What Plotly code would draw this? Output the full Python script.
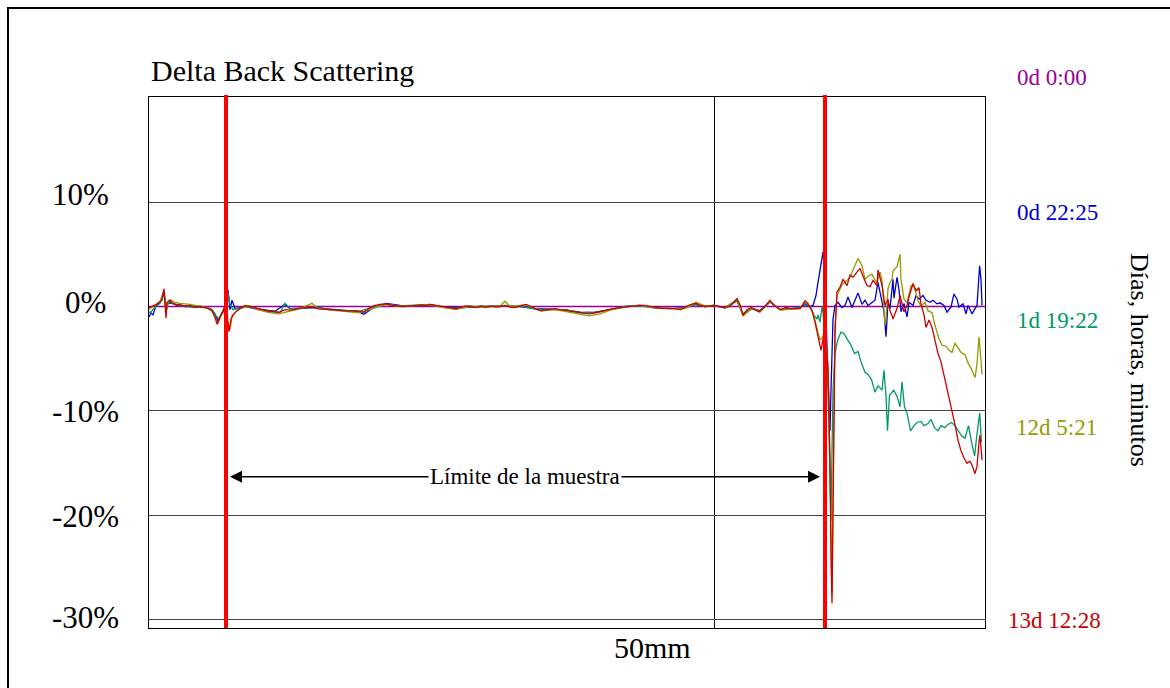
import plotly.graph_objects as go

# ---------------- data (x in mm, y in % delta back scattering) ----------------
purple_x = [-6.5, 77.1]
purple_y = [0.0, 0.0]

blue_x = [-6.5,-6.3,-6.1,-5.8,-5.4,-5.0,-4.8,-4.6,-4.2,-3.4,-2.4,-1.4,-0.6,-0.2,0.1,0.4,0.7,1.0,1.3,1.4,1.6,1.8,2.1,2.6,3.6,4.8,6.1,7.1,7.6,8.6,10.1,11.6,13.1,14.4,15.0,15.8,17.2,18.6,20.1,21.6,23.1,24.6,26.1,27.6,29.1,30.6,32.1,33.6,35.1,36.6,38.1,39.6,41.1,42.6,44.1,45.6,47.1,48.1,49.1,50.0,51.1,52.3,52.9,53.8,54.6,55.6,56.6,57.6,58.6,59.1,59.6,59.9,60.2,60.4,60.6,60.8,60.9,61.1,61.3,61.5,61.6,61.7,61.8,61.9,62.1,62.4,62.8,63.1,63.4,63.8,64.1,64.4,64.8,65.1,65.4,65.8,66.1,66.4,66.8,67.0,67.2,67.4,67.6,67.8,67.9,68.0,68.3,68.5,68.7,69.0,69.3,69.5,69.9,70.2,70.5,70.9,71.2,71.6,71.9,72.3,72.6,73.0,73.3,73.7,74.0,74.3,74.5,74.9,75.2,75.4,75.8,76.1,76.3,76.56,76.7,76.8]
blue_y = [-1.0,-0.6,-0.8,0.1,0.4,1.5,-0.5,0.3,0.3,0.1,0.0,0.0,-0.1,-0.3,-0.7,-1.4,-0.8,-0.2,1.0,1.6,-0.3,0.6,-0.2,-0.1,-0.05,-0.3,-0.45,0.2,-0.2,-0.15,-0.1,-0.25,-0.4,-0.5,-0.75,-0.2,0.3,0.1,0.05,0.15,-0.05,-0.1,-0.05,0.0,0.05,0.0,-0.2,-0.25,-0.35,-0.6,-0.55,-0.3,0.0,0.1,-0.1,-0.2,-0.1,0.2,0.0,0.1,-0.1,0.6,-0.7,-0.2,-0.4,0.5,-0.3,-0.2,-0.1,0.2,0.0,0.1,1.05,2.3,3.3,4.6,5.2,3.0,-4.0,-10.0,-11.9,-8.0,-3.4,-1.2,0.1,0.4,-0.1,0.1,0.9,-0.1,0.6,1.3,0.2,0.6,0.1,0.4,0.6,2.3,0.3,-0.5,-2.9,0.4,-0.2,1.3,2.6,0.8,2.8,1.6,-0.5,0.3,-1.0,0.4,0.1,1.05,0.7,1.05,0.6,0.4,0.6,0.25,0.35,0.1,-0.55,-0.05,1.2,0.7,-0.05,0.25,-0.7,0.1,-0.7,-0.2,0.1,3.9,2.6,0.1]

green_x = [-6.5,-6.2,-5.8,-5.4,-5.0,-4.8,-4.4,-3.9,-2.9,-1.9,-0.9,-0.2,0.2,0.5,0.8,1.1,1.4,1.6,1.9,2.4,3.1,4.4,5.6,6.6,7.1,7.6,8.6,10.1,11.6,13.1,14.6,15.8,17.2,18.6,20.1,21.6,23.1,24.6,26.1,27.6,29.1,30.6,32.1,33.6,35.1,36.6,38.1,39.6,41.1,42.6,44.1,45.6,47.1,48.2,49.1,50.0,51.1,52.3,52.9,53.8,54.6,55.6,56.6,57.6,58.6,59.1,59.6,60.0,60.3,60.4,60.6,60.8,60.9,61.1,61.4,61.6,61.7,61.8,61.9,62.1,62.35,62.7,63.0,63.4,63.7,64.05,64.4,64.7,65.1,65.4,65.75,66.1,66.4,66.8,67.0,67.2,67.35,67.55,67.96,68.3,68.6,68.8,69.05,69.3,69.66,70.0,70.3,70.7,71.0,71.4,71.7,72.05,72.4,72.7,73.07,73.4,73.75,74.1,74.4,74.77,75.1,75.45,75.8,76.06,76.3,76.57,76.74]
green_y = [-0.6,-0.4,0.0,0.3,1.2,0.2,0.4,0.2,0.0,-0.05,-0.1,-0.3,-0.9,-1.2,-0.6,0.0,1.35,0.2,-0.3,-0.2,0.0,-0.3,-0.5,-0.6,0.3,-0.2,-0.2,-0.05,-0.3,-0.4,-0.45,-0.1,0.2,0.05,0.1,0.2,-0.1,-0.15,0.0,0.0,0.05,0.05,-0.25,-0.3,-0.3,-0.55,-0.6,-0.3,0.0,0.05,-0.15,-0.2,-0.15,0.2,0.0,0.1,-0.15,0.5,-0.8,-0.15,-0.45,0.4,-0.3,-0.2,-0.1,0.3,0.0,-0.85,-1.2,-0.8,-1.5,0.0,-0.6,-3.0,-8.0,-16.0,-20.5,-14.0,-8.0,-4.5,-3.25,-2.45,-2.6,-3.25,-3.7,-4.5,-4.3,-5.3,-6.3,-6.5,-7.0,-8.2,-7.6,-8.0,-6.1,-8.6,-11.9,-8.5,-8.0,-8.6,-9.6,-7.2,-9.6,-10.2,-11.9,-11.4,-11.1,-11.0,-11.4,-11.2,-10.8,-11.6,-11.9,-11.4,-11.6,-11.3,-11.1,-11.4,-11.9,-12.4,-12.6,-11.4,-13.2,-14.3,-12.2,-10.2,-13.0]

olive_x = [-6.5,-6.2,-5.8,-5.4,-5.0,-4.8,-4.6,-4.4,-3.9,-3.4,-2.4,-1.4,-0.6,-0.2,0.1,0.4,0.7,1.0,1.4,1.6,1.8,2.2,2.6,3.6,4.4,5.4,6.5,7.6,8.6,9.8,10.4,11.7,13.1,14.6,15.8,17.2,18.6,20.1,21.6,22.7,24.2,25.6,27.1,28.6,29.1,29.6,31.2,32.7,34.2,35.6,36.6,37.5,38.6,39.6,41.1,42.6,44.1,45.6,47.1,48.2,49.1,50.0,51.1,52.3,52.9,53.8,54.6,55.6,56.6,57.6,58.6,59.1,59.4,59.8,60.1,60.4,60.6,60.8,60.9,61.1,61.4,61.6,61.7,61.8,61.9,62.0,62.1,62.3,62.8,63.3,63.6,63.9,64.4,64.8,65.1,65.4,65.8,66.1,66.3,66.6,66.8,67.1,67.2,67.4,67.6,67.8,67.9,68.3,68.6,68.7,69.0,69.3,69.7,70.0,70.4,70.7,71.1,71.4,71.8,72.1,72.5,72.8,73.2,73.5,73.8,74.1,74.4,74.7,75.1,75.4,75.8,76.1,76.3,76.5,76.6,76.8]
olive_y = [-0.3,0.0,0.2,0.5,1.4,-0.6,0.5,0.65,0.4,0.3,0.2,0.05,-0.1,-0.4,-1.1,-1.6,-0.9,-0.4,-1.5,-2.2,-1.0,-0.5,-0.2,0.05,-0.3,-0.55,-0.7,-0.4,-0.2,0.3,-0.2,-0.35,-0.45,-0.6,-0.2,0.2,0.0,0.05,0.15,-0.05,-0.3,0.05,-0.1,0.05,0.5,0.0,0.15,-0.45,-0.3,-0.55,-0.75,-0.9,-0.7,-0.35,-0.05,0.1,-0.1,-0.2,-0.2,0.4,0.05,0.1,-0.15,0.7,-0.9,-0.2,-0.55,0.5,-0.35,-0.3,-0.2,0.5,0.3,-0.4,-1.3,-2.5,-3.2,-3.0,-2.8,-2.0,-6.0,-15.0,-23.0,-27.5,-18.0,-7.0,-2.0,1.0,2.1,2.5,2.8,3.5,4.6,3.9,2.6,2.9,3.1,2.5,2.3,3.3,2.5,-1.7,-1.2,1.7,2.3,2.6,3.4,3.8,5.0,2.6,0.7,0.4,2.0,1.9,0.6,0.0,0.4,-0.4,-0.6,-1.8,-3.1,-3.7,-3.8,-4.2,-4.4,-3.5,-3.9,-4.4,-4.6,-5.4,-6.1,-6.8,-5.5,-2.9,-4.0,-6.5]

red_x = [-6.5,-6.2,-5.9,-5.6,-5.2,-5.0,-4.8,-4.7,-4.4,-4.1,-3.7,-3.4,-2.9,-2.4,-1.9,-1.4,-1.0,-0.7,-0.4,-0.2,0.1,0.3,0.6,0.9,1.2,1.4,1.5,1.7,1.9,2.3,2.6,3.1,3.6,4.3,4.9,5.4,6.0,6.5,7.1,7.6,8.0,8.6,9.2,9.8,10.4,11.1,11.7,12.3,12.9,13.5,14.1,14.6,15.0,15.6,16.1,16.6,17.2,17.8,18.4,19.0,19.6,20.2,20.8,21.2,21.6,22.2,22.7,23.3,23.8,24.2,24.7,25.2,25.7,26.2,26.7,27.2,27.8,28.2,28.6,29.1,29.6,30.1,30.6,31.2,31.7,32.2,32.7,33.2,33.7,34.2,34.7,35.2,35.6,36.2,36.8,37.5,38.1,38.7,39.3,39.9,40.6,41.2,41.8,42.4,43.0,43.6,44.2,44.9,45.5,46.1,46.7,47.2,47.7,48.2,48.6,49.1,49.6,50.0,50.5,51.1,51.6,52.0,52.3,52.6,52.9,53.3,53.7,54.1,54.5,55.0,55.4,55.6,55.9,56.3,56.7,57.2,57.7,58.2,58.6,58.9,59.1,59.4,59.8,60.1,60.4,60.6,60.7,60.8,60.9,61.1,61.4,61.6,61.7,61.8,61.9,62.0,62.1,62.2,62.3,62.6,62.9,63.3,63.6,63.9,64.3,64.6,64.9,65.3,65.6,65.9,66.3,66.4,66.8,67.1,67.4,67.6,67.8,67.9,68.3,68.6,69.0,69.3,69.5,69.9,70.2,70.5,70.7,71.0,71.2,71.5,71.8,72.1,72.4,72.7,73.1,73.4,73.7,74.1,74.4,74.7,75.0,75.3,75.6,75.8,76.1,76.3,76.5,76.6,76.8]
red_y = [-0.1,0.0,0.1,0.3,0.6,1.7,-1.1,0.4,0.6,0.3,0.1,0.2,0.0,0.1,-0.1,0.0,-0.1,-0.15,-0.3,-0.4,-1.0,-1.7,-1.0,-0.5,0.3,-1.8,-2.4,-1.2,-0.8,-0.4,-0.2,0.1,0.0,-0.2,-0.35,-0.45,-0.5,-0.55,-0.3,-0.35,-0.3,-0.15,-0.1,-0.05,-0.2,-0.25,-0.3,-0.35,-0.4,-0.45,-0.4,-0.5,-0.55,-0.1,0.1,0.2,0.25,0.1,0.05,0.0,0.05,0.1,0.15,0.05,0.2,0.1,0.0,-0.1,-0.15,-0.2,-0.1,0.05,0.0,-0.1,0.05,-0.05,0.05,-0.05,0.0,0.1,-0.05,-0.1,0.05,0.2,0.0,-0.25,-0.4,-0.3,-0.25,-0.2,-0.35,-0.3,-0.45,-0.5,-0.6,-0.7,-0.6,-0.5,-0.35,-0.2,-0.1,0.0,0.05,0.1,0.1,0.0,-0.1,-0.2,-0.15,-0.25,-0.3,0.0,0.2,0.3,0.1,0.0,0.05,0.1,0.0,-0.1,0.0,0.4,0.75,0.2,-0.85,-0.3,-0.1,-0.3,-0.5,-0.1,0.3,0.6,0.2,-0.1,-0.3,-0.1,-0.2,-0.2,-0.2,0.2,0.55,0.25,-0.4,-1.5,-2.8,-3.6,-4.2,-3.7,-3.1,-2.0,-6.0,-15.0,-24.0,-28.4,-20.0,-8.0,-2.5,-0.5,1.4,1.85,2.6,2.0,3.0,2.8,3.3,3.65,2.9,2.0,1.9,2.5,2.0,3.5,2.0,0.1,0.7,-0.4,-0.85,-1.2,-0.2,1.05,-0.5,0.1,0.9,2.2,1.5,1.8,0.2,-0.8,-2.0,-1.3,-2.0,-3.3,-4.5,-5.3,-7.0,-8.0,-9.3,-11.3,-12.8,-13.8,-14.5,-15.0,-14.8,-15.2,-16.0,-15.3,-13.0,-12.3,-14.7]

sample_limits = [1.2, 61.1]
y_ticks = [10, 0, -10, -20, -30]
y_tick_labels = ["10%", "0%", "-10%", "-20%", "-30%"]
series_labels = ["0d 0:00", "0d 22:25", "1d 19:22", "12d 5:21", "13d 12:28"]
series_colors = ["#990099", "#0000cc", "#009966", "#999900", "#cc0000"]

FONT = "Liberation Serif"

fig = go.Figure()
all_series = [(purple_x, purple_y), (blue_x, blue_y), (green_x, green_y),
              (olive_x, olive_y), (red_x, red_y)]
for (xs, ys), name, col in zip(all_series, series_labels, series_colors):
    fig.add_trace(go.Scatter(x=xs, y=ys, mode="lines", name=name,
                             line=dict(color=col, width=1.3), showlegend=False))

W, H = 1170, 688
L, R, T, B = 149, 185, 97, 60
pw, ph = W - L - R, H - T - B

def px(xp):
    return (xp - L) / pw

def py(yp):
    return (H - B - yp) / ph

fig.update_layout(
    width=W, height=H,
    margin=dict(l=L, r=R, t=T, b=B),
    paper_bgcolor="white", plot_bgcolor="white",
    font=dict(family=FONT, color="black"),
    xaxis=dict(range=[-6.5, 77.1], showline=True, mirror=True, linecolor="black",
               linewidth=1, tickvals=[50], showticklabels=False, ticks="",
               showgrid=True, gridcolor="black", gridwidth=1, zeroline=False),
    yaxis=dict(range=[-30.77, 20.05], showline=True, mirror=True, linecolor="black",
               linewidth=1, tickvals=y_ticks, showticklabels=False, ticks="",
               showgrid=True, gridcolor="#444444", gridwidth=1, zeroline=False),
)

shapes = []
for xv in sample_limits:
    shapes.append(dict(type="line", xref="x", yref="paper", x0=xv, x1=xv, y0=0, y1=1.004,
                       line=dict(color="#ff0000", width=4), layer="above"))
# outer frame
shapes.append(dict(type="rect", xref="paper", yref="paper",
                   x0=px(8), x1=px(1180), y0=py(698), y1=py(8),
                   line=dict(color="black", width=2), layer="above"))
fig.update_layout(shapes=shapes)

ann = []
ann.append(dict(text="Delta Back Scattering", xref="paper", yref="paper",
                x=px(149), y=py(71), xanchor="left", yanchor="middle",
                showarrow=False, font=dict(size=30, family=FONT)))
tick_pos = [(80, 194), (85, 302), (85, 411), (85, 516), (85, 617)]
for lab, (xp, yp) in zip(y_tick_labels, tick_pos):
    ann.append(dict(text=lab, xref="paper", yref="paper", x=px(xp), y=py(yp),
                    xanchor="center", yanchor="middle", showarrow=False,
                    font=dict(size=31, family=FONT)))
lab_pos = [(1052, 77), (1057, 212), (1057, 320), (1056, 427), (1054, 620)]
for lab, col, (xp, yp) in zip(series_labels, series_colors, lab_pos):
    ann.append(dict(text=lab, xref="paper", yref="paper", x=px(xp), y=py(yp),
                    xanchor="center", yanchor="middle", showarrow=False,
                    font=dict(size=23, family=FONT, color=col)))
ann.append(dict(text="Días, horas, minutos", xref="paper", yref="paper",
                x=px(1140), y=py(360), textangle=90, showarrow=False,
                xanchor="center", yanchor="middle", font=dict(size=26, family=FONT)))
ann.append(dict(text="50mm", xref="paper", yref="paper", x=px(652), y=py(647),
                xanchor="center", yanchor="middle", showarrow=False,
                font=dict(size=30, family=FONT)))
# sample limit arrows
mid_x = 31.1
arrow_y = -16.3
for end_x in [1.6, 60.6]:
    ann.append(dict(text="", x=end_x, y=arrow_y, xref="x", yref="y",
                    ax=mid_x, ay=arrow_y, axref="x", ayref="y",
                    showarrow=True, arrowhead=2, arrowsize=1.6, arrowwidth=1.5,
                    arrowcolor="black"))
ann.append(dict(text="Límite de la muestra", x=mid_x, y=arrow_y, xref="x", yref="y",
                showarrow=False, bgcolor="white", borderpad=1,
                font=dict(size=23, family=FONT)))
fig.update_layout(annotations=ann)

fig.write_html("out.html")
